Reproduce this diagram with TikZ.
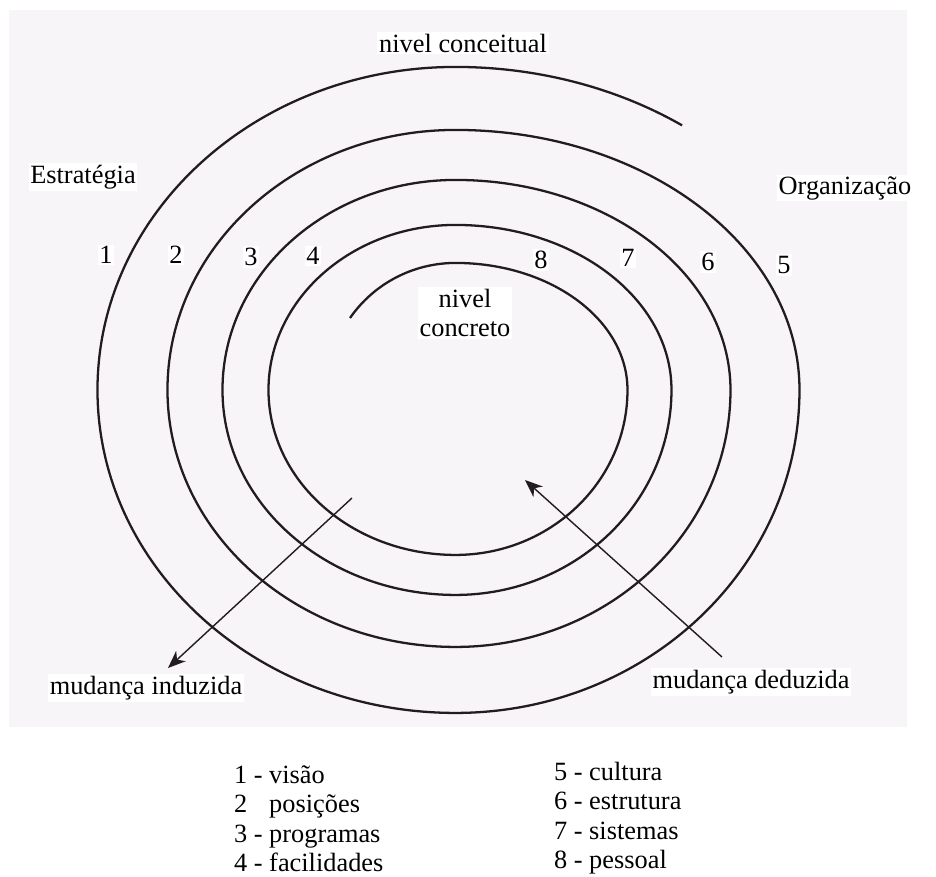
\documentclass[tikz,border=0pt]{standalone}
\usepackage{fontspec}
\setmainfont{Liberation Serif}
\usetikzlibrary{arrows.meta}
\definecolor{paper}{RGB}{247,245,247}
\definecolor{ink}{RGB}{35,28,30}
\tikzstyle{txt}=[inner sep=1pt, font=\fontsize{15}{16.5}\selectfont]
\tikzstyle{wtxt}=[txt, fill=white]
\tikzstyle{num}=[wtxt]
\tikzstyle{leg}=[txt, anchor=base west]
\tikzstyle{spiral}=[draw=ink, line width=1.3pt]
\tikzstyle{mudanca}=[draw=ink, line width=0.8pt, -{Stealth[length=10pt, width=8pt, inset=3pt]}]

\begin{document}
\begin{tikzpicture}[x=0.02cm, y=-0.02cm]
    \useasboundingbox (0,0) rectangle (936,876);
    \fill[paper] (9,10) rectangle (907,727);
    % espiral, de dentro para fora
    \draw[spiral] (350,318)
        arc[start angle=214.5, end angle=270, x radius=128, y radius=127]
        arc[start angle=-90, end angle=0, x radius=172, y radius=127]
        arc[start angle=0, end angle=90, x radius=172, y radius=165]
        arc[start angle=90, end angle=180, x radius=187, y radius=165]
        arc[start angle=180, end angle=270, x radius=187, y radius=165]
        arc[start angle=-90, end angle=0, x radius=216, y radius=165]
        arc[start angle=0, end angle=90, x radius=216, y radius=205]
        arc[start angle=90, end angle=180, x radius=233, y radius=205]
        arc[start angle=180, end angle=270, x radius=233, y radius=210]
        arc[start angle=-90, end angle=0, x radius=275, y radius=210]
        arc[start angle=0, end angle=90, x radius=275, y radius=257]
        arc[start angle=90, end angle=180, x radius=288, y radius=257]
        arc[start angle=180, end angle=270, x radius=288, y radius=260]
        arc[start angle=-90, end angle=0, x radius=344, y radius=260]
        arc[start angle=0, end angle=90, x radius=344, y radius=323]
        arc[start angle=90, end angle=180, x radius=358, y radius=323]
        arc[start angle=180, end angle=270, x radius=358, y radius=323]
        arc[start angle=-90, end angle=-55, x radius=395, y radius=323];
    \node[wtxt] (conc) at (463,43) {nivel conceitual};
    \node[wtxt] (estr) at (83,177) {Estratégia};
    \node[wtxt] (org) at (845,188) {Organização};
    \node[wtxt, align=center] (concr) at (465,313) {nivel\\concreto};
    \node[num] (n1) at (106,255) {1};
    \node[num] (n2) at (176,255) {2};
    \node[num] (n3) at (251,257) {3};
    \node[num] (n4) at (313,256) {4};
    \node[num] (n8) at (541,260) {8};
    \node[num] (n7) at (628,258) {7};
    \node[num] (n6) at (708,262) {6};
    \node[num] (n5) at (784,265) {5};
    \coordinate (ind0) at (352,498);
    \coordinate (ind1) at (168,668);
    \coordinate (ded0) at (722,657);
    \coordinate (ded1) at (525,480);
    \draw[mudanca] (ind0) -- (ind1);
    \draw[mudanca] (ded0) -- (ded1);
    \node[wtxt] (ind) at (146,688) {mudança induzida};
    \node[wtxt] (ded) at (751,682) {mudança deduzida};
    % legenda
    \node[leg] (leg1) at (232,783) {1 - visão};
    \node[leg] (leg2) at (232,812) {2 \hphantom{-} posições};
    \node[leg] (leg3) at (232,842) {3 - programas};
    \node[leg] (leg4) at (232,871) {4 - facilidades};
    \node[leg] (leg5) at (552,780) {5 - cultura};
    \node[leg] (leg6) at (552,809) {6 - estrutura};
    \node[leg] (leg7) at (552,839) {7 - sistemas};
    \node[leg] (leg8) at (552,868) {8 - pessoal};
\end{tikzpicture}
\end{document}
